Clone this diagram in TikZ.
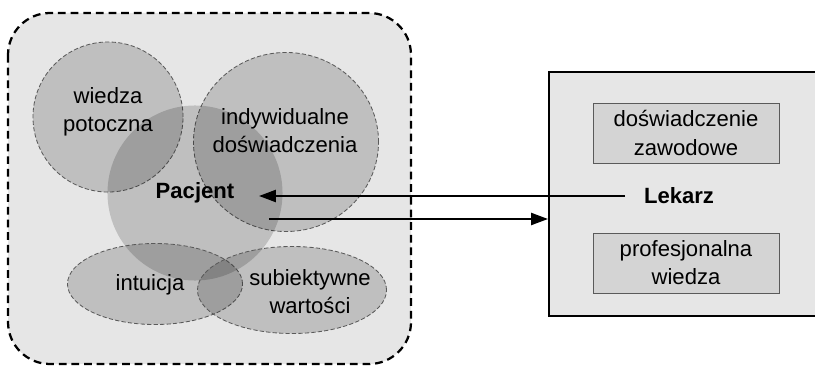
\documentclass[tikz,border=0pt]{standalone}
\usepackage{fontspec}
\setmainfont{Liberation Sans}
\usepackage{tikz}
\usetikzlibrary{arrows.meta,shapes.geometric,positioning}

\definecolor{bgfill}{RGB}{230,230,230}
\definecolor{boxfill}{RGB}{212,212,212}
\definecolor{rimgray}{RGB}{90,90,90}

\begin{document}
\begin{tikzpicture}[
    x=0.025cm, y=-0.025cm,
    bubble/.style={ellipse, draw=rimgray, dash pattern=on 3pt off 1.6pt, line width=0.6pt,
        fill=black, fill opacity=0.17, draw opacity=1, inner sep=0pt},
    core/.style={circle, fill=black, fill opacity=0.17, inner sep=0pt},
    lbl/.style={align=center, font=\fontsize{15.7}{20}\selectfont},
    key/.style={font=\fontsize{15.7}{20}\selectfont\bfseries},
    knowbox/.style={rectangle, draw=rimgray, line width=0.6pt, fill=boxfill,
        minimum width=4.65cm, minimum height=1.5cm, align=center,
        font=\fontsize{15.7}{20}\selectfont},
    arr/.style={line width=1.4pt, -{Triangle[length=0.42cm, width=0.3cm]}}
]
\clip (0,0) rectangle (815,367);

% patient side
\draw[line width=1.6pt, dash pattern=on 5.5pt off 3.5pt, fill=bgfill, rounded corners=1.05cm]
    (8,13) rectangle (411,364);

\node[bubble, minimum width=3.75cm, minimum height=3.75cm] (potoczna) at (108,117) {};
\node[bubble, minimum width=4.625cm, minimum height=4.475cm] (doswiad) at (286,142) {};
\node[core, minimum size=4.375cm] (rdzen) at (195,193) {};
\node[bubble, minimum width=4.375cm, minimum height=2.025cm] (intuicja) at (155,284) {};
\node[bubble, minimum width=4.725cm, minimum height=2.175cm] (wartosci) at (292,290) {};

\node[lbl] (tpotoczna) at (108,112) {wiedza\\potoczna};
\node[lbl] (tdoswiad) at (285,131) {indywidualne\\doświadczenia};
\node[lbl] (tintuicja) at (150,285) {intuicja};
\node[lbl] (twartosci) at (310,292) {subiektywne\\wartości};
\node[key] (pacjent) at (195,193) {Pacjent};

% doctor side
\node[rectangle, draw, line width=1.4pt, fill=bgfill, minimum width=7.025cm, minimum height=6.1cm]
    (lekbox) at (689.5,194) {};
\node[knowbox] (zawodowe) at (686,133) {doświadczenie\\zawodowe};
\node[knowbox] (profwiedza) at (686,263) {profesjonalna\\wiedza};
\node[key] (lekarz) at (679,196) {Lekarz};

% exchange
\coordinate (intip) at (259,196);
\coordinate (outstart) at (269,219);
\draw[arr, shorten <=0.35cm] (lekarz.west) -- (intip);
\draw[arr] (outstart) -- (lekbox.west |- outstart);
\end{tikzpicture}
\end{document}
